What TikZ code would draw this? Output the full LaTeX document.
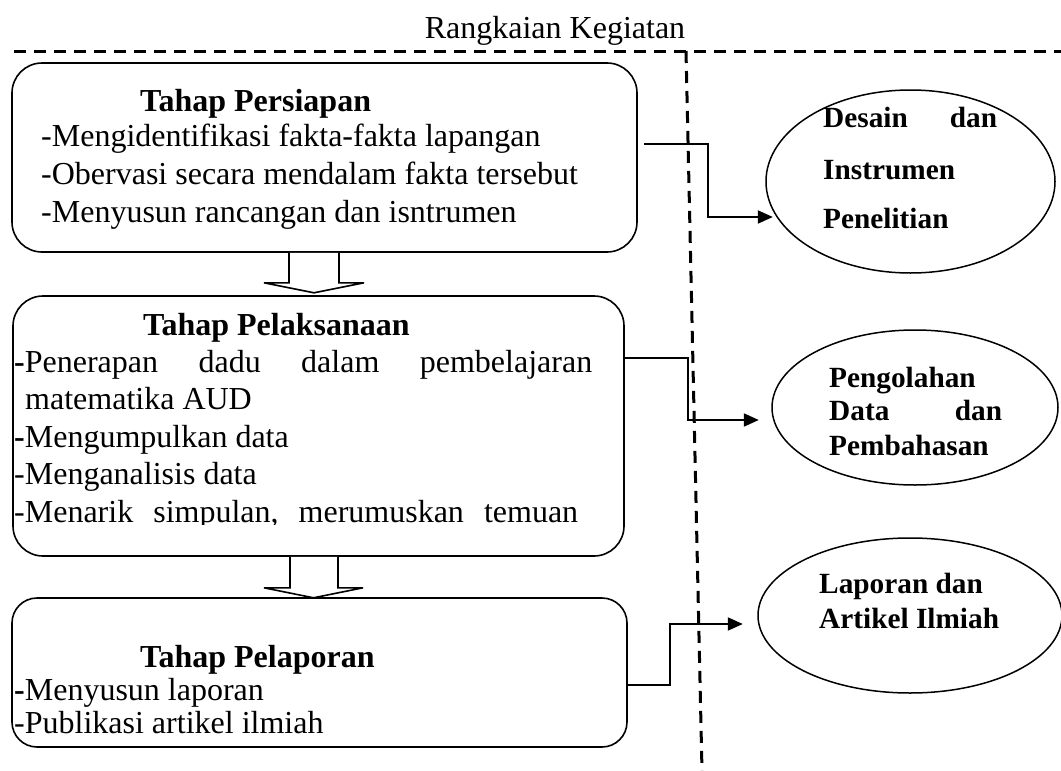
\documentclass[tikz,border=0pt]{standalone}
\usepackage{fontspec}
\setmainfont{Liberation Serif}
\usetikzlibrary{arrows.meta,calc,shapes.geometric}
\begin{document}
\begin{tikzpicture}[x=1pt,y=-1pt,
  txt/.style={anchor=base west,inner sep=0pt,font=\fontsize{32}{38}\selectfont},
  hd/.style={anchor=base west,inner sep=0pt,font=\fontsize{32}{38}\selectfont\bfseries},
  etxt/.style={anchor=base west,inner sep=0pt,font=\fontsize{29.3}{34}\selectfont\bfseries},
  boxa/.style={draw,line width=1.6pt,rounded corners=30pt,inner sep=0pt},
  ell/.style={draw,ellipse,line width=1.5pt,inner sep=0pt},
  conn/.style={line width=2pt,-{Triangle[length=15pt,width=13pt]}},
  hollow/.style={draw,line width=1.6pt,fill=white},
  dsh/.style={line width=3pt,dash pattern=on 12pt off 8pt}]
\useasboundingbox (0,0) rectangle (1061,771);

% title and dashed separators
\node[anchor=base,inner sep=0pt,font=\fontsize{32}{38}\selectfont] (title) at (555,38) {Rangkaian Kegiatan};
\coordinate (hl) at (14,51);
\coordinate (hr) at (1061,51);
\coordinate (vt) at (686,51);
\coordinate (vb) at (702,771);
\draw[dsh] (hl) -- (hr);
\draw[dsh] (vt) -- (vb);

% boxes
\node[boxa,minimum width=625pt,minimum height=189pt] (box1) at (324.5,157.5) {};
\node[boxa,minimum width=611pt,minimum height=260pt] (box2) at (318.5,426) {};
\node[boxa,rounded corners=25pt,minimum width=615pt,minimum height=149pt] (box3) at (319.5,672.5) {};

% box 1 text
\node[hd] (t1) at (140,111) {Tahap Persiapan};
\node[txt] (t1a) at (41,146) {-Mengidentifikasi fakta-fakta lapangan};
\node[txt] (t1b) at (41,184) {-Obervasi secara mendalam fakta tersebut};
\node[txt] (t1c) at (41,222) {-Menyusun rancangan dan isntrumen};

% box 2 text
\node[hd] (t2) at (143,335) {Tahap Pelaksanaan};
\begin{scope}
\clip (12,296) rectangle (624,524);
\node[txt] (t2a) at (14,372) {\hbox to 578pt{\textbf{-}Penerapan\hfill dadu\hfill dalam\hfill pembelajaran}};
\node[txt] (t2b) at (25,409) {matematika AUD};
\node[txt] (t2c) at (14,447) {\textbf{-}Mengumpulkan data};
\node[txt] (t2d) at (14,484) {-Menganalisis data};
\node[txt] (t2e) at (14,522) {\hbox to 564pt{-Menarik\hfill simpulan,\hfill merumuskan\hfill temuan}};
\end{scope}

% box 3 text
\node[hd] (t3) at (140,667) {Tahap Pelaporan};
\node[txt] (t3a) at (14,700) {\textbf{-}Menyusun laporan};
\node[txt] (t3b) at (14,733) {-Publikasi artikel ilmiah};

% hollow arrows between boxes
\draw[hollow] ([xshift=-35.5pt]box1.south) -- ++(0,30) -- ++(-25,0) -- ++(50,10) -- ++(50,-10) -- ++(-25,0) -- ++(0,-30);
\draw[hollow] ([xshift=-28.5pt]box2.south) -- ++(0,31) -- ++(-26,0) -- ++(49.5,10) -- ++(49.5,-10) -- ++(-25,0) -- ++(0,-31);

% ellipses
\node[ell,minimum width=289pt,minimum height=183pt] (e1) at (910.5,181.5) {};
\node[ell,minimum width=286pt,minimum height=155pt] (e2) at (915,407.5) {};
\node[ell,minimum width=304pt,minimum height=155pt] (e3) at (910,615.5) {};

\node[etxt] (e1a) at (823,127) {\hbox to 174pt{Desain\hfill dan}};
\node[etxt] (e1b) at (823,179) {Instrumen};
\node[etxt] (e1c) at (823,228) {Penelitian};

\node[etxt] (e2a) at (829,387) {Pengolahan};
\node[etxt] (e2b) at (829,420) {\hbox to 173pt{Data\hfill dan}};
\node[etxt] (e2c) at (829,455) {Pembahasan};

\node[etxt] (e3a) at (819,593) {Laporan dan};
\node[etxt] (e3b) at (819,628) {Artikel Ilmiah};

% connectors
\draw[conn] ([xshift=6pt,yshift=13.5pt]box1.east) -- ++(64,0) -- ++(0,73) -- ++(65,0);
\draw[conn] ([yshift=68pt]box2.east) -- ++(63,0) -- ++(0,62) -- ++(71,0);
\draw[conn] ([yshift=-12.5pt]box3.east) -- ++(42,0) -- ++(0,-61) -- ++(73,0);
\end{tikzpicture}
\end{document}
